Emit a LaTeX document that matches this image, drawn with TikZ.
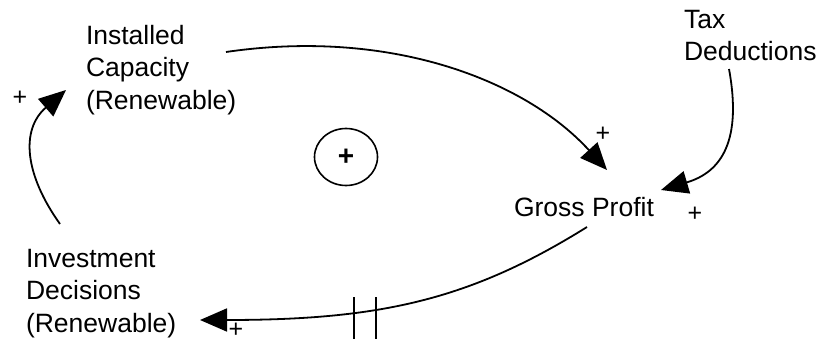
\documentclass[tikz,border=0pt]{standalone}
\usepackage{fontspec}
\setmainfont{Liberation Sans}
\usetikzlibrary{arrows.meta,shapes.geometric,calc}
\begin{document}
\begin{tikzpicture}[x=1pt,y=-1pt,
  lbl/.style={inner sep=0pt,outer sep=0pt,align=left,anchor=north west,
    font=\fontsize{26.5}{32.5}\selectfont},
  sgn/.style={inner sep=0pt,font=\fontsize{25}{28}\selectfont},
  link/.style={line width=1.8pt,-{Triangle[length=27pt,width=23pt]}}]
\useasboundingbox (0,0) rectangle (821,339);
\node[lbl] (ic) at (86,25) {Installed\\Capacity\\(Renewable)};
\node[lbl] (td) at (684,10) {Tax\\Deductions};
\node[lbl] (gp) at (514,197) {Gross Profit};
\node[lbl] (id) at (26,249) {Investment\\Decisions\\(Renewable)};
\node[draw,line width=1.6pt,ellipse,minimum width=63pt,minimum height=57pt,inner sep=0pt,
  font=\fontsize{28}{30}\selectfont\bfseries] (loop) at (346,157) {+};
% Installed Capacity -> Gross Profit
\draw[link] ($(ic.north west)+(140,27)$) .. controls (390,28) and (525,80) .. ($(gp.north west)+(93,-27)$);
\node[sgn] (s1) at (603,134) {+};
% Tax Deductions -> Gross Profit
\draw[link] ($(td.north west)+(45,59)$) .. controls (742,140) and (722,172) .. ($(gp.north west)+(147,-7)$);
\node[sgn] (s2) at (695,214) {+};
% Gross Profit -> Investment Decisions
\draw[link] ($(gp.north west)+(73,30)$) .. controls (470,300) and (380,320) .. ($(id.north west)+(174,71)$);
\draw[line width=1.8pt] (354,297) -- (354,339) (376,297) -- (376,339);
\node[sgn] (s3) at (236,330) {+};
% Investment Decisions -> Installed Capacity
\draw[link] ($(id.north west)+(34,-25)$) .. controls (25,175) and (20,130) .. ($(ic.north west)+(-20,65)$);
\node[sgn] (s4) at (20,98) {+};
\end{tikzpicture}
\end{document}
